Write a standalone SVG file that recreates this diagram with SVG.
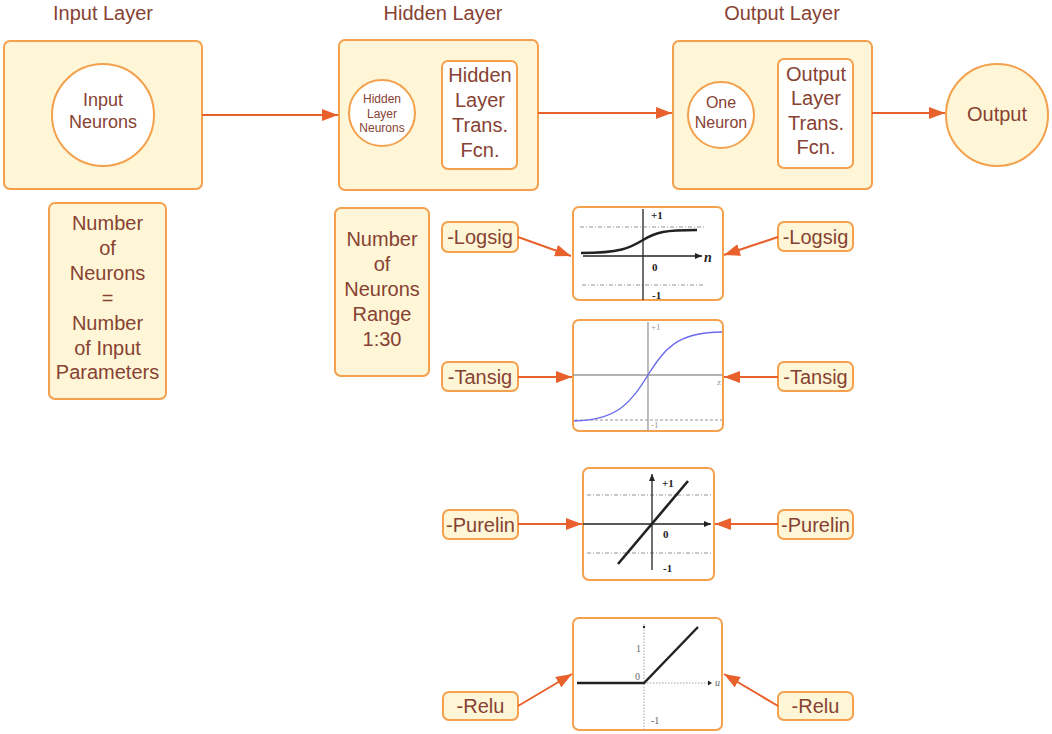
<svg xmlns="http://www.w3.org/2000/svg" width="1052" height="734" viewBox="0 0 1052 734">
<defs>
<style>
.box{fill:#FEF6D6;stroke:#F4A04C;stroke-width:2}
.wbox{fill:#FFFFFF;stroke:#F4A04C;stroke-width:2}
.t{font-family:"Liberation Sans",Arial,sans-serif;fill:#874233;text-anchor:middle}
.conn{stroke:#E8602C;stroke-width:2;fill:none;marker-end:url(#ah)}
.ax{stroke:#222;stroke-width:1.3;fill:none}
.gax{stroke:#999;stroke-width:1.3;fill:none}
.dd{stroke:#888;stroke-width:0.9;stroke-dasharray:4 2 1 2;fill:none}
.ct{font-family:"Liberation Serif","Times New Roman",serif;font-size:11px;fill:#222;font-weight:bold}
.gt{font-family:"Liberation Serif","Times New Roman",serif;font-size:9px;fill:#999}
.rt{font-family:"Liberation Serif","Times New Roman",serif;font-size:10px;fill:#666}
</style>
<marker id="ah" markerWidth="16" markerHeight="12" refX="16" refY="6" orient="auto" markerUnits="userSpaceOnUse">
<path d="M0,0 L16,6 L0,12 Z" fill="#E8602C"/>
</marker>
<marker id="ka" markerWidth="7" markerHeight="6" refX="7" refY="3" orient="auto" markerUnits="userSpaceOnUse">
<path d="M0,0 L7,3 L0,6 Z" fill="#222"/>
</marker>
</defs>
<rect width="1052" height="734" fill="#FFFFFF"/>

<g id="titles">
<text class="t" x="103" y="20" font-size="20">Input Layer</text>
<text class="t" x="443" y="20" font-size="20">Hidden Layer</text>
<text class="t" x="782" y="20" font-size="20">Output Layer</text>
</g>

<g id="input-layer">
<rect class="box" x="4" y="41" width="198" height="148" rx="6"/>
<circle cx="103" cy="115" r="51" fill="#FFFFFF" stroke="#F4A04C" stroke-width="2"/>
<text class="t" x="103" y="106" font-size="18">Input</text>
<text class="t" x="103" y="128" font-size="18">Neurons</text>
</g>

<g id="hidden-layer">
<rect class="box" x="339" y="40" width="199" height="150" rx="6"/>
<circle cx="382" cy="113" r="33" fill="#FFFFFF" stroke="#F4A04C" stroke-width="2"/>
<text class="t" x="382" y="103" font-size="12">Hidden</text>
<text class="t" x="382" y="118" font-size="12">Layer</text>
<text class="t" x="382" y="132" font-size="12">Neurons</text>
<rect class="wbox" x="442" y="61" width="75" height="108" rx="6"/>
<text class="t" x="480" y="82" font-size="20">Hidden</text>
<text class="t" x="480" y="107" font-size="20">Layer</text>
<text class="t" x="480" y="132" font-size="20">Trans.</text>
<text class="t" x="480" y="157" font-size="20">Fcn.</text>
</g>

<g id="output-layer">
<rect class="box" x="673" y="41" width="199" height="148" rx="6"/>
<circle cx="721" cy="115" r="33" fill="#FFFFFF" stroke="#F4A04C" stroke-width="2"/>
<text class="t" x="721" y="108" font-size="16">One</text>
<text class="t" x="721" y="128" font-size="16">Neuron</text>
<rect class="wbox" x="778" y="59" width="75" height="109" rx="6"/>
<text class="t" x="816" y="81" font-size="20">Output</text>
<text class="t" x="816" y="105" font-size="20">Layer</text>
<text class="t" x="816" y="130" font-size="20">Trans.</text>
<text class="t" x="816" y="154" font-size="20">Fcn.</text>
</g>

<g id="output">
<circle cx="997" cy="115" r="51" class="box"/>
<text class="t" x="997" y="121" font-size="20">Output</text>
</g>

<g id="input-count">
<rect class="box" x="49" y="203" width="117" height="196" rx="6"/>
<text class="t" x="107.5" y="230" font-size="20">Number</text>
<text class="t" x="107.5" y="255" font-size="20">of</text>
<text class="t" x="107.5" y="280" font-size="20">Neurons</text>
<text class="t" x="107.5" y="305" font-size="20">=</text>
<text class="t" x="107.5" y="330" font-size="20">Number</text>
<text class="t" x="107.5" y="355" font-size="20">of Input</text>
<text class="t" x="107.5" y="379" font-size="20">Parameters</text>
</g>

<g id="hidden-count">
<rect class="box" x="335" y="208" width="94" height="168" rx="6"/>
<text class="t" x="382" y="246" font-size="20">Number</text>
<text class="t" x="382" y="271" font-size="20">of</text>
<text class="t" x="382" y="296" font-size="20">Neurons</text>
<text class="t" x="382" y="321" font-size="20">Range</text>
<text class="t" x="382" y="346" font-size="20">1:30</text>
</g>

<g id="label-logsig-left"><rect class="box" x="442" y="222" width="76" height="30" rx="6"/><text class="t" x="480" y="244" font-size="20">-Logsig</text></g>
<g id="label-tansig-left"><rect class="box" x="442" y="362" width="76" height="29" rx="6"/><text class="t" x="480" y="384" font-size="20">-Tansig</text></g>
<g id="label-purelin-left"><rect class="box" x="443" y="510" width="75" height="29" rx="6"/><text class="t" x="480.5" y="532" font-size="20">-Purelin</text></g>
<g id="label-relu-left"><rect class="box" x="443" y="692" width="75" height="28" rx="6"/><text class="t" x="480.5" y="713" font-size="20">-Relu</text></g>

<g id="label-logsig-right"><rect class="box" x="778" y="222" width="75" height="29" rx="6"/><text class="t" x="815.5" y="244" font-size="20">-Logsig</text></g>
<g id="label-tansig-right"><rect class="box" x="778" y="362" width="75" height="29" rx="6"/><text class="t" x="815.5" y="384" font-size="20">-Tansig</text></g>
<g id="label-purelin-right"><rect class="box" x="778" y="510" width="75" height="29" rx="6"/><text class="t" x="815.5" y="532" font-size="20">-Purelin</text></g>
<g id="label-relu-right"><rect class="box" x="778" y="692" width="75" height="28" rx="6"/><text class="t" x="815.5" y="713" font-size="20">-Relu</text></g>

<g id="chart-logsig">
<rect class="wbox" x="573" y="207" width="150" height="93" rx="6"/>
<line class="dd" x1="580" y1="227" x2="705" y2="227"/>
<line class="dd" x1="582" y1="285" x2="705" y2="285"/>
<line class="ax" x1="643" y1="300" x2="643" y2="209"/>
<line class="ax" x1="583" y1="256" x2="702" y2="256" marker-end="url(#ka)"/>
<path d="M581,253 C620,253 630,248 643,240 C656,232 665,230 697,230" fill="none" stroke="#222" stroke-width="2.6"/>
<text class="ct" x="651" y="219">+1</text>
<text class="ct" x="652" y="271">0</text>
<text class="ct" x="652" y="299">-1</text>
<text x="704" y="262" font-family="'Liberation Serif',serif" font-style="italic" font-weight="bold" font-size="14" fill="#222">n</text>
</g>

<g id="chart-tansig">
<rect class="wbox" x="573" y="320" width="150" height="111" rx="6"/>
<line x1="575" y1="420" x2="722" y2="420" stroke="#888" stroke-width="0.9" stroke-dasharray="3 2"/>
<line class="gax" x1="648" y1="322" x2="648" y2="431"/>
<line class="gax" x1="573" y1="375" x2="722" y2="375"/>
<path d="M574,421 C620,420 632,400 648,375 C664,350 676,332 722,332" fill="none" stroke="#6A6AF0" stroke-width="1.3"/>
<text class="gt" x="651" y="330">+1</text>
<text class="gt" x="651" y="428">-1</text>
<text class="gt" x="717" y="385">z</text>
</g>

<g id="chart-purelin">
<rect class="wbox" x="583" y="468" width="131" height="112" rx="6"/>
<line class="dd" x1="587" y1="495" x2="712" y2="495"/>
<line class="dd" x1="587" y1="553" x2="712" y2="553"/>
<line class="ax" x1="652" y1="570" x2="652" y2="474" marker-end="url(#ka)"/>
<line class="ax" x1="583" y1="524" x2="711" y2="524" marker-end="url(#ka)"/>
<line x1="618" y1="564" x2="688" y2="481" stroke="#222" stroke-width="2.6"/>
<text class="ct" x="662" y="487">+1</text>
<text class="ct" x="663" y="538">0</text>
<text class="ct" x="663" y="572">-1</text>
</g>

<g id="chart-relu">
<rect class="wbox" x="573" y="618" width="149" height="112" rx="6"/>
<line x1="644" y1="730" x2="644" y2="624" stroke="#999" stroke-width="0.9" stroke-dasharray="1.5 1.5"/>
<circle cx="644" cy="627" r="1.2" fill="#222"/>
<line x1="644" y1="683" x2="711" y2="683" stroke="#999" stroke-width="0.9" stroke-dasharray="1.5 1.5"/>
<path d="M708,680.5 L712,683 L708,685.5 Z" fill="#222"/>
<polyline points="577,683 644,683 698,627" fill="none" stroke="#222" stroke-width="2.4"/>
<text class="rt" x="636" y="652">1</text>
<text class="rt" x="635" y="680">0</text>
<text class="rt" x="651" y="724">-1</text>
<text class="rt" x="715" y="686" font-style="italic">u</text>
</g>

<g id="connectors">
<line class="conn" x1="202" y1="115" x2="338" y2="115"/>
<line class="conn" x1="538" y1="113" x2="672" y2="113"/>
<line class="conn" x1="872" y1="113" x2="945" y2="113"/>
<line class="conn" x1="518" y1="237" x2="571" y2="256"/>
<line class="conn" x1="518" y1="377" x2="572" y2="377"/>
<line class="conn" x1="518" y1="524" x2="582" y2="524"/>
<line class="conn" x1="518" y1="706" x2="572" y2="674"/>
<line class="conn" x1="778" y1="237" x2="724" y2="255"/>
<line class="conn" x1="778" y1="377" x2="724" y2="377"/>
<line class="conn" x1="778" y1="524" x2="715" y2="524"/>
<line class="conn" x1="778" y1="706" x2="724" y2="674"/>
</g>
</svg>
